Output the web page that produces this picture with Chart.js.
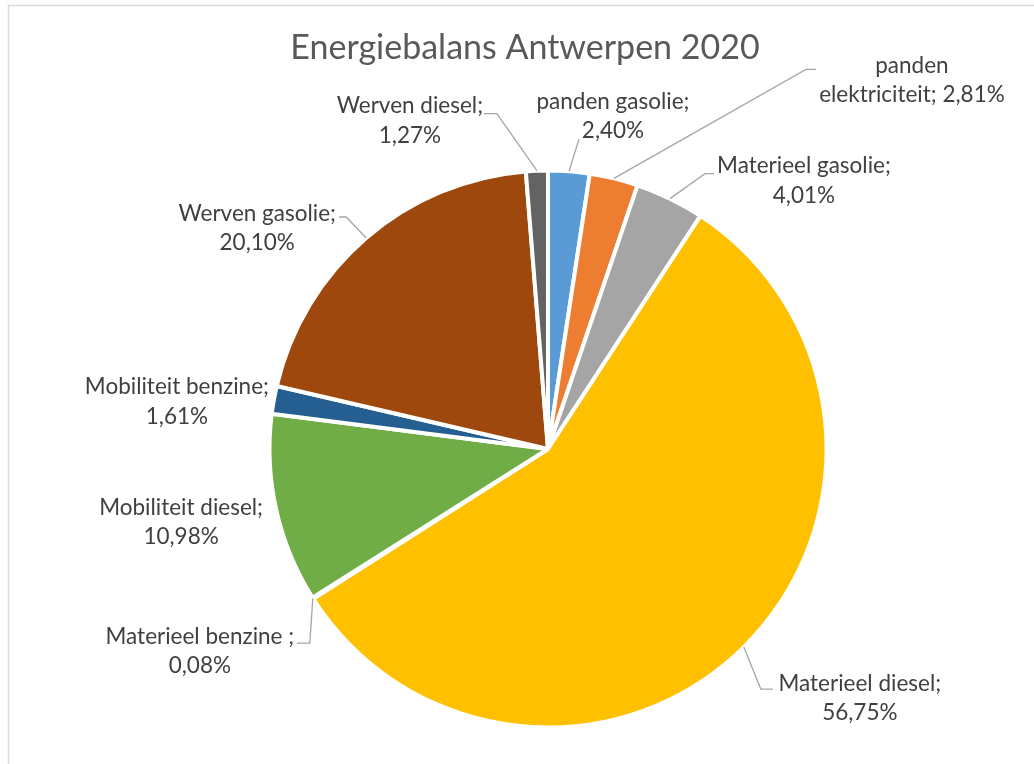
<!DOCTYPE html>
<html lang="nl">
<head>
  <meta charset="UTF-8">
  <title>Energiebalans Antwerpen 2020</title>
  <script src="https://cdn.jsdelivr.net/npm/chart.js"></script>
  <style>
    body {
      margin: 0;
      background: #fff;
      overflow: hidden;
    }
    .wrap {
      position: relative;
      width: 1034px;
      height: 764px;
    }
  </style>
</head>
<body>
  <div class="wrap"><canvas id="pieCanvas"></canvas></div>

  <script>
    const categories = ['panden gasolie', 'panden elektriciteit', 'Materieel gasolie', 'Materieel diesel',
      'Materieel benzine ', 'Mobiliteit diesel', 'Mobiliteit benzine', 'Werven gasolie', 'Werven diesel'];
    const shares = [2.40, 2.81, 4.01, 56.75, 0.08, 10.98, 1.61, 20.10, 1.27];
    const sliceColors = ['#5B9BD5', '#ED7D31', '#A5A5A5', '#FFC000', '#4472C4', '#70AD47', '#255E91', '#9E480E', '#636363'];

    // label placement, relative to the outer midpoint of each slice
    const labelOffset = [[44, -55], [298, -98], [134, -18], [116, 51], [-113, 53], [-95, 13], [-97, 2], [-109, -10], [-127, -50]];
    const leaderPts = [
      [[10, -32]],
      [[192, -109], [202, -109]],
      [[35, -25], [44, -25]],
      [[17, 42], [29, 42]],
      [[-3, 45], [-16, 45]],
      null,
      null,
      [[-20, -21], [-27, -21]],
      [[-40, -57], [-53, -57]]
    ];
    const breakAfterWord = [false, true, false, false, false, false, false, false, false];

    const FONT = 'Lato, "Open Sans", sans-serif';

    function labelLines(i) {
      const pct = shares[i].toFixed(2).replace('.', ',') + '%';
      const name = categories[i];
      if (breakAfterWord[i]) {
        const sp = name.indexOf(' ');
        return [name.slice(0, sp), name.slice(sp + 1) + '; ' + pct];
      }
      return [name + ';', pct];
    }

    const decorPlugin = {
      id: 'decor',
      beforeDraw(chart) {
        const c = chart.ctx;
        c.save();
        c.strokeStyle = '#D9D9D9';
        c.lineWidth = 1.5;
        c.strokeRect(8.5, 5.5, 1200, 1000);
        c.fillStyle = '#595959';
        c.font = '34px ' + FONT;
        c.textAlign = 'center';
        c.textBaseline = 'middle';
        c.fillText('Energiebalans Antwerpen 2020', 525, 48);
        c.restore();
      },
      afterDatasetsDraw(chart) {
        const c = chart.ctx;
        const arcs = chart.getDatasetMeta(0).data;
        c.save();
        arcs.forEach((arc, i) => {
          const p = arc.getProps(['x', 'y', 'startAngle', 'endAngle', 'outerRadius']);
          const mid = (p.startAngle + p.endAngle) / 2;
          const ax = p.x + p.outerRadius * Math.cos(mid);
          const ay = p.y + p.outerRadius * Math.sin(mid);

          if (leaderPts[i]) {
            c.strokeStyle = '#A6A6A6';
            c.lineWidth = 1.3;
            c.beginPath();
            c.moveTo(ax, ay);
            leaderPts[i].forEach(pt => c.lineTo(ax + pt[0], ay + pt[1]));
            c.stroke();
          }

          const lines = labelLines(i);
          const cx = ax + labelOffset[i][0];
          const cy = ay + labelOffset[i][1];
          c.fillStyle = '#404040';
          c.font = '22.5px ' + FONT;
          c.textAlign = 'center';
          c.textBaseline = 'middle';
          lines.forEach((t, k) => {
            c.fillText(t, cx, cy + (k - (lines.length - 1) / 2) * 29.5);
          });
        });
        c.restore();
      }
    };

    const ctx = document.getElementById('pieCanvas').getContext('2d');
    new Chart(ctx, {
      type: 'pie',
      data: {
        labels: categories,
        datasets: [{
          data: shares,
          backgroundColor: sliceColors,
          borderColor: '#ffffff',
          borderWidth: 4
        }]
      },
      options: {
        responsive: true,
        maintainAspectRatio: false,
        animation: false,
        radius: 278.5,
        layout: { padding: { left: 262, right: 200, top: 160, bottom: 26 } },
        plugins: {
          legend: { display: false },
          tooltip: { enabled: false },
          title: { display: false }
        }
      },
      plugins: [decorPlugin]
    });
  </script>
</body>
</html>
